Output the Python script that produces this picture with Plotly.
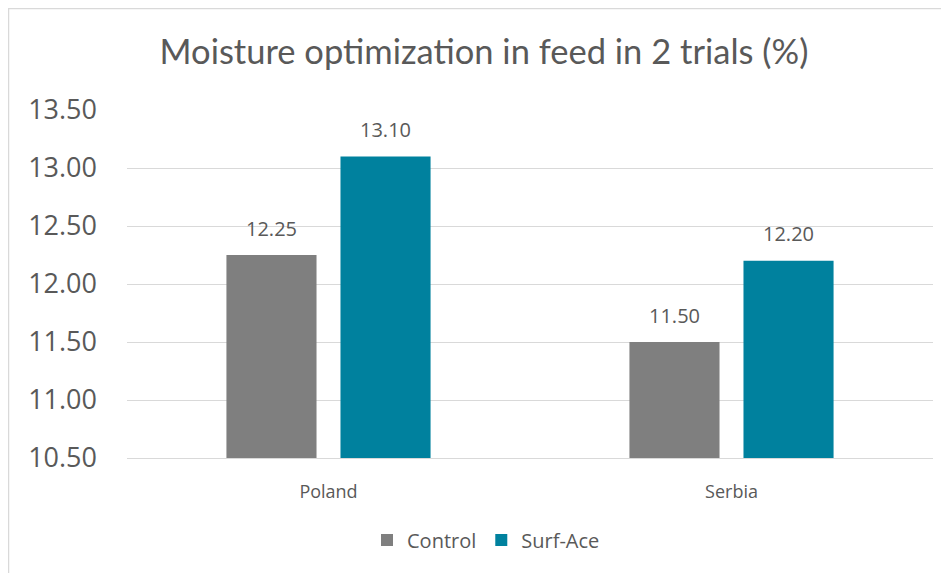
import plotly.graph_objects as go

categories = ["Poland", "Serbia"]
control = [12.25, 11.50]
surf_ace = [13.10, 12.20]
series_names = ["Control", "Surf-Ace"]
y_ticks = [10.5, 11.0, 11.5, 12.0, 12.5, 13.0, 13.5]

W, H = 949, 573
L, R, T, B = 119, 24, 102, 123
pw = W - L - R
ph = H - T - B

title_font = "Lato, 'Open Sans', sans-serif"
body_font = "'Open Sans', Lato, sans-serif"
txt = "#595959"
colors = ["#7F7F7F", "#00819E"]

fig = go.Figure()
for name, vals, col in [(series_names[0], control, colors[0]), (series_names[1], surf_ace, colors[1])]:
    fig.add_trace(go.Bar(x=categories, y=vals, name=name, marker_color=col,
                         marker_line_width=0, hoverinfo="x+y"))

# data labels placed at each bar's value, shifted horizontally to the grouped bar centre
shifts = [-57, 57]
for vals, dx in [(control, shifts[0]), (surf_ace, shifts[1])]:
    for c, v in zip(categories, vals):
        fig.add_annotation(x=c, y=v, text=f"{v:.2f}", showarrow=False, xshift=dx,
                           yshift=27, yanchor="middle",
                           font=dict(size=20, color=txt, family=body_font))

def px2x(p):
    return (p - L) / pw

def py2y(p):
    return (H - B - p) / ph

fig.add_shape(type="rect", xref="paper", yref="paper",
              x0=px2x(0.5), x1=px2x(980), y0=py2y(600), y1=py2y(0.5),
              line=dict(color="#D9D9D9", width=1.5), fillcolor="rgba(0,0,0,0)", layer="below")

fig.update_layout(
    width=W, height=H,
    margin=dict(l=L, r=R, t=T, b=B, autoexpand=False),
    paper_bgcolor="white", plot_bgcolor="white",
    barmode="group", bargap=0.434, bargroupgap=0.21,
    title=dict(text="Moisture optimization in feed in 2 trials (%)",
               x=476 / W, xref="container", xanchor="center",
               y=1 - 44 / H, yref="container", yanchor="middle",
               font=dict(size=34.5, color=txt, family=title_font)),
    showlegend=True,
    legend=dict(orientation="h", x=px2x(478), xanchor="center", xref="paper",
                y=py2y(532), yanchor="middle", font=dict(size=20, color=txt, family=body_font),
                itemwidth=30, traceorder="normal"),
    xaxis=dict(showgrid=False, showline=True, linecolor="#D9D9D9", linewidth=1,
               ticks="", tickfont=dict(size=18, color=txt, family=body_font),
               ticklabelstandoff=17),
    yaxis=dict(range=[10.5, 13.5], tickvals=y_ticks, tickformat=".2f",
               showgrid=True, gridcolor="#D9D9D9", gridwidth=1, zeroline=False,
               showline=False, ticks="", tickfont=dict(size=27, color=txt, family=body_font),
               ticklabelstandoff=29),
)

fig.write_html("out.html")
